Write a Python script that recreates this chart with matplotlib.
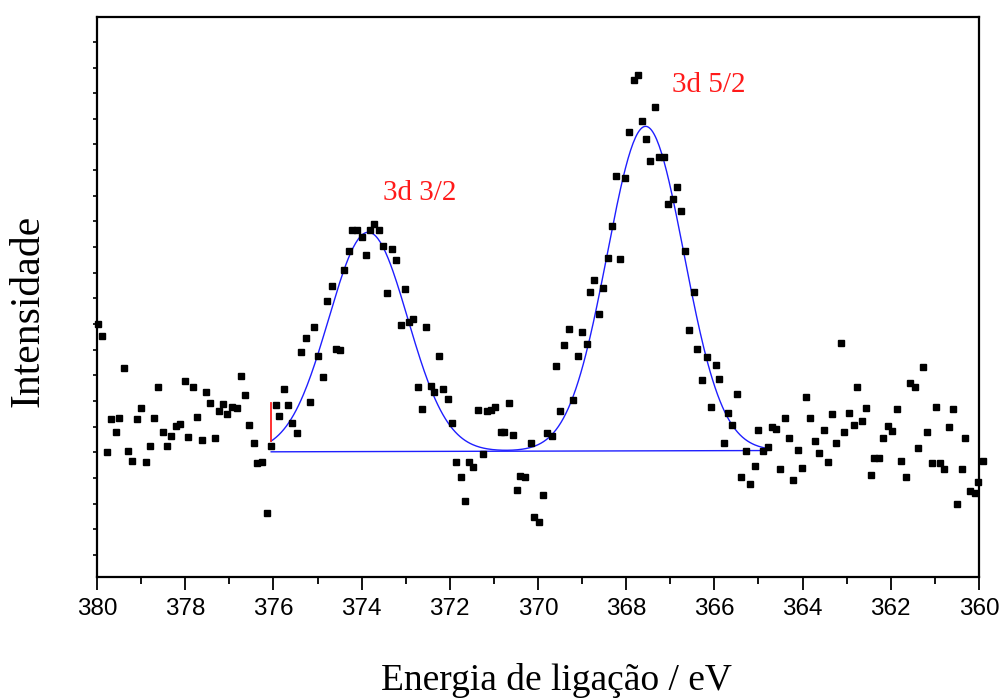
import numpy as np
import matplotlib.pyplot as plt
from matplotlib.ticker import MultipleLocator
from matplotlib import font_manager

# binding energy (eV) and intensity (a.u.) of the measured points
energy = [379.97, 379.88, 379.78, 379.69, 379.58, 379.49, 379.39, 379.29, 379.20, 379.10,
          379.00, 378.89, 378.80, 378.70, 378.61, 378.50, 378.41, 378.32, 378.21, 378.12,
          378.01, 377.93, 377.82, 377.73, 377.63, 377.53, 377.43, 377.32, 377.24, 377.14,
          377.05, 376.94, 376.83, 376.74, 376.65, 376.55, 376.45, 376.37, 376.25, 376.15,
          376.05, 375.94, 375.87, 375.75, 375.67, 375.57, 375.46, 375.37, 375.27, 375.18,
          375.07, 374.99, 374.88, 374.79, 374.68, 374.59, 374.49, 374.40, 374.29, 374.21,
          374.11, 374.00, 373.91, 373.81, 373.71, 373.61, 373.51, 373.42, 373.32, 373.21,
          373.11, 373.02, 372.92, 372.83, 372.73, 372.62, 372.54, 372.43, 372.35, 372.24,
          372.15, 372.04, 371.96, 371.85, 371.74, 371.66, 371.56, 371.47, 371.36, 371.25,
          371.16, 371.06, 370.98, 370.84, 370.77, 370.66, 370.57, 370.48, 370.41, 370.29,
          370.17, 370.09, 369.98, 369.89, 369.79, 369.69, 369.59, 369.50, 369.40, 369.30,
          369.21, 369.09, 369.00, 368.90, 368.81, 368.72, 368.62, 368.53, 368.42, 368.33,
          368.23, 368.14, 368.03, 367.94, 367.82, 367.73, 367.64, 367.54, 367.45, 367.35,
          367.26, 367.15, 367.05, 366.95, 366.85, 366.76, 366.66, 366.57, 366.47, 366.39,
          366.27, 366.16, 366.08, 365.97, 365.89, 365.79, 365.69, 365.59, 365.49, 365.40,
          365.28, 365.20, 365.09, 365.00, 364.90, 364.79, 364.70, 364.60, 364.51, 364.40,
          364.31, 364.21, 364.11, 364.02, 363.92, 363.83, 363.72, 363.63, 363.52, 363.42,
          363.33, 363.24, 363.14, 363.05, 362.95, 362.84, 362.76, 362.65, 362.57, 362.46,
          362.37, 362.27, 362.17, 362.07, 361.97, 361.87, 361.78, 361.66, 361.57, 361.46,
          361.38, 361.27, 361.19, 361.07, 360.98, 360.88, 360.79, 360.69, 360.59, 360.51,
          360.39, 360.31, 360.20, 360.09, 360.02, 359.91]
intensity = [8.99, 8.54, 4.02, 5.30, 4.81, 5.35, 7.28, 4.07, 3.68, 5.30,
             5.74, 3.64, 4.25, 5.33, 6.55, 4.78, 4.25, 4.65, 5.03, 5.12,
             6.77, 4.60, 6.54, 5.37, 4.50, 6.37, 5.94, 4.56, 5.61, 5.89,
             5.51, 5.78, 5.74, 6.97, 6.23, 5.08, 4.35, 3.59, 3.64, 1.63,
             4.26, 5.85, 5.41, 6.46, 5.85, 5.16, 4.74, 7.90, 8.45, 5.98,
             8.90, 7.76, 6.94, 9.90, 10.48, 8.04, 7.99, 11.11, 11.85, 12.67,
             12.67, 12.39, 11.68, 12.66, 12.90, 12.67, 12.06, 10.23, 11.93, 11.48,
             8.98, 10.37, 9.08, 9.19, 6.55, 5.68, 8.90, 6.60, 6.37, 7.76,
             6.46, 6.07, 5.13, 3.64, 3.02, 2.11, 3.64, 3.41, 5.65, 3.92,
             5.61, 5.65, 5.76, 4.81, 4.81, 5.92, 4.69, 2.53, 3.09, 3.04,
             4.38, 1.48, 1.30, 2.34, 4.75, 4.65, 7.37, 5.62, 8.19, 8.80,
             6.03, 7.76, 8.71, 8.21, 10.24, 10.72, 9.39, 10.40, 11.59, 12.83,
             14.79, 11.53, 14.70, 16.48, 18.52, 18.69, 16.93, 16.22, 15.36, 17.46,
             15.50, 15.50, 13.69, 13.88, 14.36, 13.40, 11.84, 8.78, 10.24, 8.01,
             6.81, 7.73, 5.77, 7.41, 6.87, 4.36, 5.55, 5.07, 6.28, 3.02,
             4.07, 2.78, 3.48, 4.88, 4.04, 4.21, 4.97, 4.92, 3.36, 5.35,
             4.56, 2.92, 4.09, 3.40, 6.17, 5.35, 4.45, 3.97, 4.88, 3.64,
             5.48, 4.35, 8.25, 4.80, 5.55, 5.07, 6.54, 5.22, 5.71, 3.12,
             3.76, 3.76, 4.57, 5.03, 4.83, 5.68, 3.68, 3.02, 6.71, 6.53,
             4.17, 7.33, 4.78, 3.59, 5.78, 3.59, 3.35, 4.97, 5.69, 1.99,
             3.35, 4.56, 2.48, 2.40, 2.84, 3.65]

# fitted components: 3d 3/2 and 3d 5/2
peak_names = ["3d 3/2", "3d 5/2"]
peak_centers = [373.85, 367.56]
peak_heights = [8.55, 12.65]
peak_fwhm = [2.11, 2.05]
fit_range = [376.05, 364.80]
baseline_ends = [4.02, 4.07]
label_pos = [(372.68, 14.11), (366.12, 18.32)]

# narrow sans for the tick numbers if it is there
names = {f.name for f in font_manager.fontManager.ttflist}
tick_font = 'Liberation Sans Narrow' if 'Liberation Sans Narrow' in names else 'Liberation Sans'
tick_size = 20 if tick_font == 'Liberation Sans Narrow' else 17.5

fig = plt.figure(figsize=(10.03, 7.0), dpi=100)
ax = fig.add_axes([97/1003, 123/700, 882/1003, 560/700])

ax.plot(energy, intensity, 's', color='black', ms=4.6, mec='black', zorder=4, clip_on=False)

# linear background + gaussian peaks
xf = np.linspace(fit_range[0], fit_range[1], 400)
bg = np.interp(xf, [fit_range[1], fit_range[0]], [baseline_ends[1], baseline_ends[0]])
total = bg.copy()
for c, h, w in zip(peak_centers, peak_heights, peak_fwhm):
    s = w / 2.3548
    total += h * np.exp(-(xf - c) ** 2 / (2 * s ** 2))
ax.plot(xf, bg, color='#1f1fff', lw=1.0, zorder=3)
ax.plot(xf, total, color='#1f1fff', lw=1.0, zorder=3)
ax.plot([fit_range[0], fit_range[0]], [total[0], 5.94], color='#ff2020', lw=1.3, zorder=3)

for name, (px, py) in zip(peak_names, label_pos):
    ax.text(px, py, name, color='#ff1a1a', fontsize=21, family='Liberation Serif',
            ha='center', va='center')

ax.set_xlim(380, 360)
ax.set_ylim(-0.86, 20.97)
ax.xaxis.set_major_locator(MultipleLocator(2))
ax.xaxis.set_minor_locator(MultipleLocator(1))
ax.yaxis.set_major_locator(MultipleLocator(1))
ax.set_yticklabels([])
ax.tick_params(axis='x', which='major', direction='out', length=9, width=1.3,
               labelsize=tick_size, pad=6)
ax.tick_params(axis='x', which='minor', direction='out', length=5, width=1.3)
ax.tick_params(axis='y', which='major', direction='out', length=3, width=1.2)
for lab in ax.get_xticklabels():
    lab.set_family(tick_font)
for sp in ax.spines.values():
    sp.set_linewidth(1.6)

fig.text(28/1003, 1 - 311/700, 'Intensidade', rotation=90, ha='center', va='center',
         fontsize=30, family='Liberation Serif')
fig.text(556/1003, 1 - 681/700, 'Energia de ligação / eV', ha='center', va='center',
         fontsize=27, family='Liberation Serif')

fig.savefig('out.png', dpi=100)
